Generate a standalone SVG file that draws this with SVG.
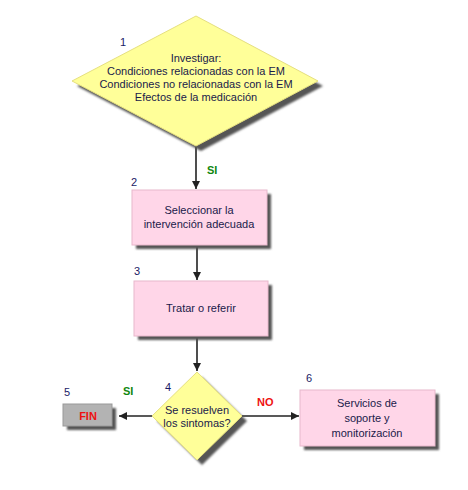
<svg xmlns="http://www.w3.org/2000/svg" width="468" height="490" viewBox="0 0 468 490">
<defs>
<marker id="ah" viewBox="0 0 10 10" refX="10" refY="5" markerWidth="5" markerHeight="5" orient="auto" markerUnits="strokeWidth">
<path d="M0,0 L10,5 L0,10 z" fill="#222"/>
</marker>
<filter id="sh" x="-10%" y="-10%" width="130%" height="130%">
<feGaussianBlur stdDeviation="1.2"/>
</filter>
<style>
text{font-family:"Liberation Sans",Arial,sans-serif;}
.t{font-size:11px;fill:#1a1a4a;text-anchor:middle;}
.n{font-size:11px;fill:#1a1a66;}
.sh{fill:#555;filter:url(#sh);}
.y{fill:#ffff99;stroke:#e6e080;stroke-width:1;}
.p{fill:#ffd6e8;stroke:#e8b8cc;stroke-width:1;}
.g{fill:#b3b3b3;stroke:#999;stroke-width:1;}
.c{stroke:#222;stroke-width:1.6;fill:none;marker-end:url(#ah);}
.si{font-size:11px;font-weight:bold;fill:#118811;}
.no{font-size:11px;font-weight:bold;fill:#ee1111;}
</style>
</defs>
<rect width="468" height="490" fill="#fff"/>
<g id="connectors">
<line class="c" x1="196" y1="146" x2="196" y2="189"/>
<line class="c" x1="197" y1="246" x2="197" y2="280"/>
<line class="c" x1="197" y1="337" x2="197" y2="371"/>
<line class="c" x1="152" y1="416" x2="119" y2="416"/>
<line class="c" x1="242" y1="416" x2="299" y2="416"/>
<text class="si" x="207" y="174">SI</text>
<text class="si" x="123" y="395">SI</text>
<text class="no" x="257" y="406">NO</text>
</g>
<g id="node1">
<polygon class="sh" points="201,21 323,86 201,151 77,86"/>
<polygon class="y" points="196,16 318,81 196,146 72,81"/>
<text class="n" x="120" y="46">1</text>
<text class="t" x="196" y="62">Investigar:</text>
<text class="t" x="196" y="75">Condiciones relacionadas con la EM</text>
<text class="t" x="196" y="88">Condiciones no relacionadas con la EM</text>
<text class="t" x="196" y="101">Efectos de la medicación</text>
</g>
<g id="node2">
<rect class="sh" x="136" y="194" width="135" height="55"/>
<rect class="p" x="132" y="190" width="135" height="55"/>
<text class="n" x="131" y="186">2</text>
<text class="t" x="199" y="214">Seleccionar la</text>
<text class="t" x="199" y="228">intervención adecuada</text>
</g>
<g id="node3">
<rect class="sh" x="138" y="285" width="134" height="55"/>
<rect class="p" x="134" y="281" width="134" height="55"/>
<text class="n" x="134" y="275">3</text>
<text class="t" x="201" y="312">Tratar o referir</text>
</g>
<g id="node4">
<polygon class="sh" points="202,377 247,421 202,465 157,421"/>
<polygon class="y" points="197,372 242,416 197,460 152,416"/>
<text class="n" x="165" y="391">4</text>
<text class="t" x="197" y="414">Se resuelven</text>
<text class="t" x="197" y="427">los sintomas?</text>
</g>
<g id="node5">
<rect class="sh" x="67" y="408" width="49" height="22"/>
<rect class="g" x="63" y="404" width="49" height="22"/>
<text class="n" x="64" y="396">5</text>
<text x="88" y="419.5" style="font-size:11px;font-weight:bold;fill:#ee1111;text-anchor:middle">FIN</text>
</g>
<g id="node6">
<rect class="sh" x="304" y="394" width="135" height="56"/>
<rect class="p" x="300" y="390" width="135" height="56"/>
<text class="n" x="306" y="382">6</text>
<text class="t" x="367" y="407">Servicios de</text>
<text class="t" x="367" y="422">soporte y</text>
<text class="t" x="367" y="437">monitorización</text>
</g>
</svg>
